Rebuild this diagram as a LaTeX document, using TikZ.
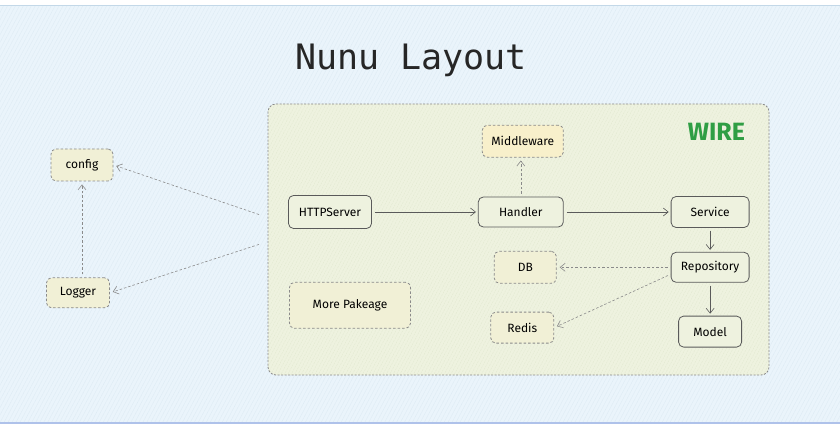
\documentclass[tikz,border=0pt]{standalone}
\usepackage{fontspec}
\usepackage{tikz}
\usetikzlibrary{positioning}
\usetikzlibrary{calc}
\usetikzlibrary{arrows.meta}
\usetikzlibrary{patterns.meta}

\newfontfamily\handfont{Fira Sans}
\newfontfamily\titlefont{DejaVu Sans Mono}

\definecolor{bgblue}{HTML}{EAF4FB}
\definecolor{bgstreak}{HTML}{DCEAF3}
\definecolor{bgedge}{HTML}{C3D8E8}
\definecolor{wirefill}{HTML}{EEF2DF}
\definecolor{wirestreak}{HTML}{E1E8CF}
\definecolor{boxfill}{HTML}{F1F0D6}
\definecolor{midfill}{HTML}{F8F0CB}
\definecolor{wiregreen}{HTML}{2F9E44}
\definecolor{edgegray}{HTML}{5A5A5A}
\definecolor{dashgray}{HTML}{8A8A8A}

\begin{document}
\begin{tikzpicture}[x=1pt,y=-1pt,
		solidbox/.style={rectangle,rounded corners=5pt,draw=edgegray,fill=wirefill,thick,minimum height=30pt,inner sep=2pt,font=\handfont\fontsize{12}{14}\selectfont},
		dashbox/.style={rectangle,rounded corners=5pt,draw=dashgray,fill=boxfill,thick,dashed,dash pattern=on 2.5pt off 2pt,minimum height=30pt,inner sep=2pt,font=\handfont\fontsize{12}{14}\selectfont},
		flow/.style={draw=edgegray,semithick,shorten <=3pt,shorten >=2pt},
		dep/.style={draw=dashgray,semithick,dash pattern=on 2.5pt off 2pt,shorten <=3pt,shorten >=3pt},
		>={Straight Barb[length=5pt,width=8pt]}]
		\useasboundingbox (0,0) rectangle (840,430);
		% page background
		\fill[bgblue] (0,6) rectangle (840,423);
		\fill[pattern={Lines[angle=62,distance=3.5pt,line width=.3pt]},pattern color=bgstreak] (0,6) rectangle (840,423);
		\draw[bgedge,line width=1pt] (0,6) -- (840,6);
		\draw[bgedge!90!blue,line width=1.5pt] (0,423) -- (840,423);
		\node[font=\titlefont\fontsize{35}{40}\selectfont,text=black!85] (title) at (411,60) {Nunu Layout};
		% wire container
		\node[rectangle,rounded corners=8pt,draw=dashgray,thick,dash pattern=on 2pt off 1.5pt,preaction={fill=wirefill},pattern={Lines[angle=62,distance=3pt,line width=.3pt]},pattern color=wirestreak,minimum width=501pt,minimum height=271pt] (wire) at (518.5,239.5) {};
		\node[inner sep=0pt,text=wiregreen,font=\handfont\bfseries\fontsize{25}{28}\selectfont] (wirelabel)[below left = 19pt and 24pt of wire.north east]{WIRE};
		% nodes
		\node[dashbox,minimum width=62pt,minimum height=32pt] (config) at (82,165) {config};
		\node[dashbox,minimum width=63pt] (logger)[below = 96pt of config,xshift=-4pt]{Logger};
		\node[solidbox,minimum width=83pt,minimum height=33pt] (http) at (330,212) {HTTPServer};
		\node[solidbox,minimum width=85pt] (handler)[right = 106pt of http]{Handler};
		\node[dashbox,fill=midfill,minimum width=81pt,minimum height=32pt] (mid)[above = 39pt of handler,xshift=2pt]{Middleware};
		\node[solidbox,minimum width=78pt,minimum height=31pt] (service)[right = 107pt of handler]{Service};
		\node[solidbox,minimum width=78pt] (repo)[below = 24pt of service]{Repository};
		\node[solidbox,minimum width=63pt,minimum height=31pt] (model)[below = 33pt of repo]{Model};
		\node[dashbox,minimum width=62pt,minimum height=32pt] (db)[left = 114pt of repo]{DB};
		\node[dashbox,minimum width=63pt,minimum height=31pt] (redis)[below = 28pt of db,xshift=-3pt]{Redis};
		\node[dashbox,minimum width=121pt,minimum height=46pt] (more)[below = 53pt of http,xshift=20pt]{More Pakeage};
		% connectors
		\coordinate (wireA) at ($(wire.west)+(-6pt,24pt)$);
		\coordinate (wireB) at ($(wire.west)+(-6pt,-4pt)$);
		\draw[dep,->] (wireA) -- (config.east);
		\draw[dep,->] (wireB) -- (logger.east);
		\draw[dep,->] (logger.north -| config) -- (config.south);
		\draw[flow,->] (http) -- (handler);
		\draw[dep,->] (handler.north) -- (handler.north |- mid.south);
		\draw[flow,->] (handler) -- (service);
		\draw[flow,->] (service) -- (repo);
		\draw[flow,->] (repo) -- (model);
		\draw[dep,->] (repo) -- (db);
		\draw[dep,->] (repo.190) -- (redis.east);
	\end{tikzpicture}
\end{document}
